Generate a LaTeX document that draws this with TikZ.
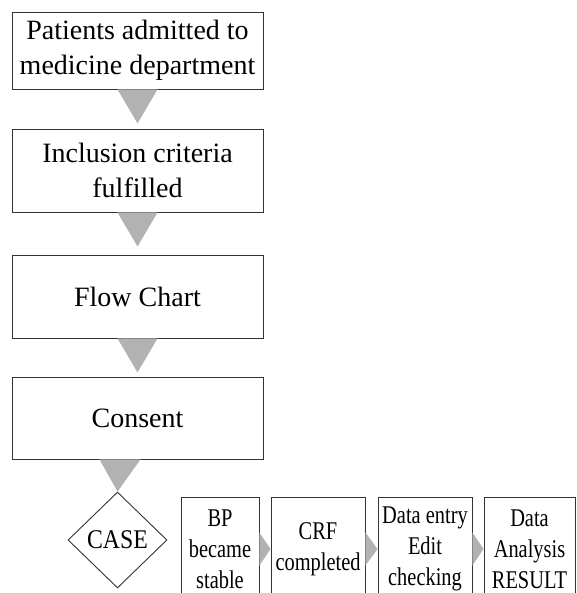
\documentclass[tikz,border=0pt]{standalone}
\usepackage{fontspec}
\setmainfont{Liberation Serif}
\newfontfamily\narrowserif[FakeStretch=0.8]{Liberation Serif}
\newfontfamily\caseserif[FakeStretch=0.88]{Liberation Serif}
\usetikzlibrary{calc}
\usetikzlibrary{shapes.geometric}

\begin{document}
\begin{tikzpicture}[x=1pt,y=-1pt,
    stagebox/.style={draw=black!80,line width=0.9pt,align=center,inner sep=0pt,
      minimum width=251pt,font=\fontsize{28}{35}\selectfont},
    stepcell/.style={draw=black!80,line width=0.9pt,align=center,inner sep=0pt,
      minimum height=104pt,font=\narrowserif\fontsize{25.5}{31}\selectfont},
    pointer/.style={fill=black!30,draw=none}]
  \useasboundingbox (0,0) rectangle (576,593);
  \clip (0,0) rectangle (576,593);

  % main column
  \node[stagebox,minimum height=77pt] (admit) at(137.5,50.5) {Patients admitted to\\medicine department};
  \node[stagebox,minimum height=83pt] (criteria) at(137.5,170.5) {Inclusion criteria\\fulfilled};
  \node[stagebox,minimum height=83pt] (chart) at(137.5,296.5) {Flow Chart};
  \node[stagebox,minimum height=82pt] (consent) at(137.5,418) {Consent};

  \foreach \a in {admit,criteria,chart}
    \fill[pointer] ($(\a.south)+(-20,0)$) -- ($(\a.south)+(20,0)$) -- ($(\a.south)+(0,34)$) -- cycle;

  % case and the row of steps
  \node[draw=black!80,line width=0.9pt,diamond,inner sep=0pt,minimum width=99pt,minimum height=96pt,
        font=\caseserif\fontsize{27}{30}\selectfont] (case) at(117.5,540) {CASE};
  \fill[pointer] ($(consent.south)+(-38,0)$) -- ($(consent.south)+(3,0)$) -- (case.north) -- cycle;

  \node[stepcell,minimum width=78pt] (bp) at(220,549) {BP\\became\\stable};
  \node[stepcell,minimum width=94pt] (crf) at(318,549) {CRF\\completed};
  \node[stepcell,minimum width=94pt] (entry) at(425,549) {Data entry\\Edit\\checking};
  \node[stepcell,minimum width=91pt] (analysis) at(529.5,549) {Data\\Analysis\\RESULT};

  \foreach \a/\b in {bp/crf,crf/entry,entry/analysis}
    \fill[pointer] ($(\a.east)+(0,-16.5)$) -- ($(\a.east)+(0,16.5)$) -- (\b.west) -- cycle;
\end{tikzpicture}
\end{document}
